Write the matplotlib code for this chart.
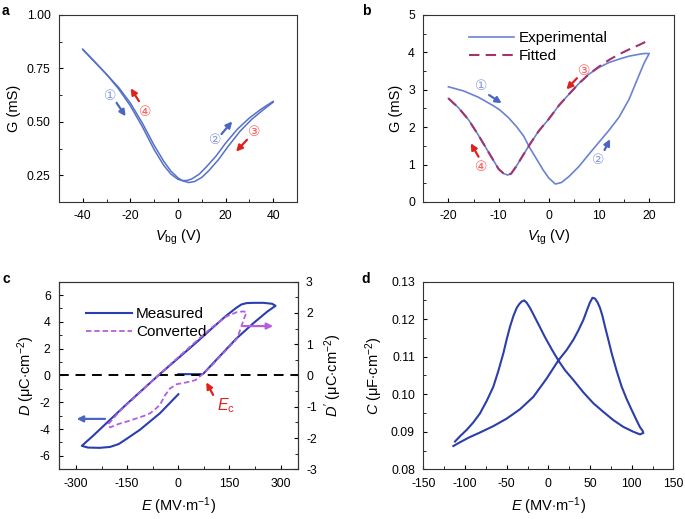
import matplotlib
matplotlib.use('Agg')
import matplotlib.pyplot as plt
from matplotlib.ticker import MultipleLocator

plt.rcParams['font.family'] = ['Liberation Sans', 'DejaVu Sans']
plt.rcParams['font.size'] = 8.8
plt.rcParams['axes.unicode_minus'] = False
plt.rcParams['mathtext.fontset'] = 'custom'
plt.rcParams['mathtext.rm'] = 'Liberation Sans'
plt.rcParams['mathtext.it'] = 'Liberation Sans:italic'
plt.rcParams['xtick.direction'] = 'in'
plt.rcParams['ytick.direction'] = 'in'
plt.rcParams['xtick.major.size'] = 3
plt.rcParams['ytick.major.size'] = 3
plt.rcParams['xtick.minor.size'] = 2.5
plt.rcParams['ytick.minor.size'] = 2.5
plt.rcParams['xtick.major.pad'] = 6
plt.rcParams['ytick.major.pad'] = 6
plt.rcParams['axes.edgecolor'] = '#333333'
plt.rcParams['axes.linewidth'] = 0.8

# ---- panel a : G vs Vbg (two sweeps)
va1 = [-40, -35, -30, -25, -20, -15, -10, -6, -3, 0, 2, 4, 6, 9, 12, 16, 20, 25, 30, 35, 40]
ga1 = [0.840, 0.782, 0.722, 0.655, 0.575, 0.478, 0.370, 0.297, 0.256, 0.231, 0.225, 0.226,
       0.234, 0.256, 0.290, 0.340, 0.400, 0.466, 0.518, 0.560, 0.596]
va2 = [-40, -35, -30, -25, -20, -15, -10, -6, -3, 0, 2, 4.5, 7, 10, 13, 17, 21, 26, 31, 36, 40]
ga2 = [0.838, 0.780, 0.722, 0.662, 0.588, 0.495, 0.390, 0.316, 0.270, 0.238, 0.224, 0.216,
       0.221, 0.240, 0.272, 0.323, 0.384, 0.455, 0.512, 0.558, 0.592]

# ---- panel b : G vs Vtg
vb_exp = [-20, -17, -14, -11, -9.75, -8, -6.4, -5, -3.8, -2, -1.15, 0, 1.3, 2.5, 4, 6, 8, 10,
          12, 14, 16, 18, 19, 20,
          19, 18, 16, 14, 12, 10, 8, 6, 4, 2, 0, -2, -3.5, -5, -6.5, -7.5, -8.2, -9, -10,
          -12, -14, -16, -18, -20]
gb_exp = [3.08, 2.97, 2.80, 2.57, 2.46, 2.25, 2.01, 1.76, 1.45, 1.05, 0.86, 0.64, 0.48, 0.52,
          0.68, 0.95, 1.28, 1.60, 1.92, 2.27, 2.75, 3.40, 3.72, 3.97,
          3.97, 3.95, 3.90, 3.82, 3.73, 3.60, 3.42, 3.17, 2.88, 2.58, 2.22, 1.90, 1.60, 1.28,
          0.95, 0.76, 0.72, 0.76, 0.88, 1.33, 1.78, 2.20, 2.52, 2.77]
vb_fit = [-20, -18, -16, -14, -12, -10, -9, -8.2, -7.5, -6.5, -5, -3.5, -2, 0, 2, 4, 6, 8,
          10, 12, 14, 16, 18, 20]
gb_fit = [2.77, 2.52, 2.20, 1.78, 1.33, 0.88, 0.76, 0.72, 0.76, 0.95, 1.28, 1.60, 1.90, 2.22,
          2.58, 2.88, 3.17, 3.42, 3.62, 3.80, 3.95, 4.08, 4.20, 4.33]

# ---- panel c : D-E loop (measured, left axis) and converted (right axis)
ec_meas = [0, 40, 72, 120, 170, 220, 260, 285, 275, 250, 220, 200, 185, 170, 140, 100, 50, 0,
           -59, -100, -150, -200, -250, -283, -265, -230, -200, -175, -150, -113, -54, 0]
dc_meas = [0.1, 0.1, 0.1, 1.4, 2.75, 3.9, 4.75, 5.2, 5.35, 5.42, 5.42, 5.40, 5.30, 5.05, 4.45,
           3.55, 2.4, 1.3, 0.0, -0.95, -2.1, -3.3, -4.5, -5.25, -5.38, -5.40, -5.33, -5.12,
           -4.7, -4.06, -2.82, -1.40]
ec_conv = [-205, -170, -130, -90, -59, -20, 20, 60, 100, 140, 170, 190, 200, 192, 182, 172,
           150, 120, 95, 72, 50, 24, -5, -25, -40, -54, -70, -83, -100, -122, -150, -175,
           -200, -205]
dc_conv = [-1.55, -1.12, -0.72, -0.31, 0.0, 0.39, 0.78, 1.17, 1.55, 1.88, 2.02, 2.05, 2.02,
           1.80, 1.48, 1.18, 0.92, 0.58, 0.28, 0.05, -0.15, -0.22, -0.28, -0.42, -0.65, -0.94,
           -1.10, -1.21, -1.29, -1.37, -1.47, -1.55, -1.66, -1.60]

# ---- panel d : C-E butterfly
ed = [-114, -106, -95, -82, -66, -50, -34, -18, -2, 12, 22, 30, 36, 42, 47, 50, 53, 56, 59,
      62, 65, 68, 72, 76, 82, 88, 94, 100, 106, 110, 113, 114,
      110, 102, 90, 78, 66, 54, 42, 30, 20, 12, 4, -4, -12, -18, -22, -26, -29, -32, -35,
      -38, -42, -46, -50, -54, -60, -66, -74, -82, -90, -98, -106, -112]
cd = [0.0862, 0.0872, 0.0885, 0.0898, 0.0915, 0.0935, 0.0960, 0.0993, 0.1042, 0.1090,
      0.1118, 0.1145, 0.1170, 0.1198, 0.1228, 0.1245, 0.1257, 0.1255, 0.1245, 0.1230,
      0.1208, 0.1180, 0.1145, 0.1109, 0.1062, 0.1020, 0.0987, 0.0958, 0.0930, 0.0912,
      0.0903, 0.0897,
      0.0893, 0.0900, 0.0913, 0.0931, 0.0953, 0.0976, 0.1005, 0.1038, 0.1064, 0.1090,
      0.1120, 0.1152, 0.1187, 0.1213, 0.1230, 0.1244, 0.1250, 0.1247, 0.1240, 0.1230,
      0.1208, 0.1180, 0.1146, 0.1109, 0.1062, 0.1020, 0.0982, 0.0949, 0.0925, 0.0905,
      0.0888, 0.0874]

circ_fam = ['DejaVu Sans', 'Noto Sans CJK JP']
light_blue = '#8a9be0'
light_red = '#ff5a5a'
arrow_blue = '#4a66c4'
arrow_red = '#e0201c'


def arrow(ax, tail, head, color):
    ax.annotate('', xy=head, xytext=tail,
                arrowprops=dict(arrowstyle='-|>', color=color, lw=1.6, mutation_scale=9,
                                shrinkA=0, shrinkB=0))


fig = plt.figure(figsize=(6.85, 5.19), dpi=100)

# ---------------- a
ax = fig.add_axes([0.0861, 0.6108, 0.3474, 0.3603])
ax.plot(va1, ga1, color='#5570c8', lw=1.1)
ax.plot(va2, ga2, color='#5570c8', lw=1.1)
ax.set_xlim(-50, 50)
ax.set_ylim(0.125, 1.0)
ax.xaxis.set_major_locator(MultipleLocator(20))
ax.xaxis.set_minor_locator(MultipleLocator(10))
ax.yaxis.set_minor_locator(MultipleLocator(0.125))
ax.set_yticks([0.25, 0.5, 0.75, 1.0])
ax.set_yticklabels(['0.25', '0.50', '0.75', '1.00'])
ax.set_ylabel('G (mS)', fontsize=10.5)
ax.set_xlabel(r'$V_{\mathrm{bg}}$ (V)', fontsize=10.5)
arrow(ax, (-25.8, 0.589), (-22.0, 0.526), arrow_blue)
arrow(ax, (-16.4, 0.597), (-19.9, 0.657), arrow_red)
arrow(ax, (18.3, 0.443), (22.8, 0.502), arrow_blue)
arrow(ax, (29.0, 0.416), (24.4, 0.361), arrow_red)
ax.text(-28.6, 0.62, '\u2460', color=light_blue, family=circ_fam, fontsize=10, ha='center', va='center')
ax.text(-13.75, 0.548, '\u2463', color=light_red, family=circ_fam, fontsize=10, ha='center', va='center')
ax.text(15.5, 0.416, '\u2461', color=light_blue, family=circ_fam, fontsize=10, ha='center', va='center')
ax.text(32.1, 0.451, '\u2462', color=light_red, family=circ_fam, fontsize=10, ha='center', va='center')
fig.text(0.003, 0.978, 'a', fontsize=10, fontweight='bold', va='center')

# ---------------- b
ax = fig.add_axes([0.618, 0.6108, 0.3664, 0.3603])
ax.plot(vb_exp, gb_exp, color='#6a82d2', lw=1.2, label='Experimental')
ax.plot(vb_fit, gb_fit, color='#a3336e', lw=1.5, ls=(0, (5, 3)), label='Fitted')
ax.set_xlim(-25, 25)
ax.set_ylim(0, 5)
ax.xaxis.set_major_locator(MultipleLocator(10))
ax.xaxis.set_minor_locator(MultipleLocator(5))
ax.yaxis.set_major_locator(MultipleLocator(1))
ax.yaxis.set_minor_locator(MultipleLocator(0.5))
ax.set_ylabel('G (mS)', fontsize=10.5)
ax.set_xlabel(r'$V_{\mathrm{tg}}$ (V)', fontsize=10.5)
ax.legend(loc='upper left', bbox_to_anchor=(0.15, 0.955), frameon=False, fontsize=11,
          handlelength=3.0, handletextpad=0.3, borderpad=0, labelspacing=0.25)
arrow(ax, (-11.9, 2.86), (-9.4, 2.64), arrow_blue)
arrow(ax, (11.1, 1.39), (12.2, 1.68), arrow_blue)
arrow(ax, (5.6, 3.31), (3.5, 3.01), arrow_red)
arrow(ax, (-14.0, 1.21), (-15.55, 1.57), arrow_red)
ax.text(-13.4, 3.10, '\u2460', color=light_blue, family=circ_fam, fontsize=10, ha='center', va='center')
ax.text(9.8, 1.12, '\u2461', color=light_blue, family=circ_fam, fontsize=10, ha='center', va='center')
ax.text(7.1, 3.51, '\u2462', color=light_red, family=circ_fam, fontsize=10, ha='center', va='center')
ax.text(-13.4, 0.94, '\u2463', color=light_red, family=circ_fam, fontsize=10, ha='center', va='center')
fig.text(0.528, 0.978, 'b', fontsize=10, fontweight='bold', va='center')

# ---------------- c
ax = fig.add_axes([0.0861, 0.0958, 0.3485, 0.3615])
ax2 = ax.twinx()
ax.plot(ec_meas, dc_meas, color='#2a3eb0', lw=1.5, label='Measured')
ax2.plot(ec_conv, dc_conv, color='#b45ee0', lw=1.3, ls=(0, (3, 1.6)))
ax.plot([], [], color='#b45ee0', lw=1.3, ls=(0, (3, 1.6)), label='Converted')
ax.axhline(0, color='black', lw=1.4, ls=(0, (5, 3.5)))
ax.set_xlim(-350, 350)
ax.set_ylim(-7, 7)
ax2.set_ylim(-3, 3)
ax.xaxis.set_major_locator(MultipleLocator(150))
ax.xaxis.set_minor_locator(MultipleLocator(75))
ax.yaxis.set_major_locator(MultipleLocator(2))
ax.yaxis.set_minor_locator(MultipleLocator(1))
ax2.yaxis.set_major_locator(MultipleLocator(1))
ax2.yaxis.set_minor_locator(MultipleLocator(0.5))
ax2.tick_params(axis='y', which='both', direction='in')
ax.set_ylabel(r'$D$ ($\mathrm{\mu}$C$\cdot$cm$^{-2}$)', fontsize=10.5, labelpad=2)
ax2.set_ylabel(r"$D'$ ($\mathrm{\mu}$C$\cdot$cm$^{-2}$)", fontsize=10.5, rotation=90, labelpad=4)
ax.set_xlabel(r'$E$ (MV$\cdot$m$^{-1}$)', fontsize=10.5)
ax.legend(loc='upper left', bbox_to_anchor=(0.08, 0.905), frameon=False, fontsize=11,
          handlelength=3.0, handletextpad=0.3, borderpad=0, labelspacing=0.25)
arrow(ax, (-215, -3.24), (-298, -3.24), arrow_blue)
arrow(ax2, (190, 1.58), (278, 1.58), '#b45ee0')
arrow(ax, (102, -1.45), (82, -0.51), arrow_red)
ax.text(113, -2.25, r'$E_{\mathrm{c}}$', color='#e0201c', fontsize=11.5, ha='left', va='center')
fig.text(0.003, 0.463, 'c', fontsize=10, fontweight='bold', va='center')

# ---------------- d
ax = fig.add_axes([0.618, 0.0958, 0.365, 0.3615])
ax.plot(ed, cd, color='#2c3ea8', lw=1.5)
ax.set_xlim(-150, 150)
ax.set_ylim(0.08, 0.13)
ax.xaxis.set_major_locator(MultipleLocator(50))
ax.xaxis.set_minor_locator(MultipleLocator(25))
ax.yaxis.set_major_locator(MultipleLocator(0.01))
ax.yaxis.set_minor_locator(MultipleLocator(0.005))
ax.set_ylabel(r'$C$ ($\mathrm{\mu}$F$\cdot$cm$^{-2}$)', fontsize=10.5)
ax.set_xlabel(r'$E$ (MV$\cdot$m$^{-1}$)', fontsize=10.5)
fig.text(0.528, 0.463, 'd', fontsize=10, fontweight='bold', va='center')

fig.savefig('out.png', dpi=100)
